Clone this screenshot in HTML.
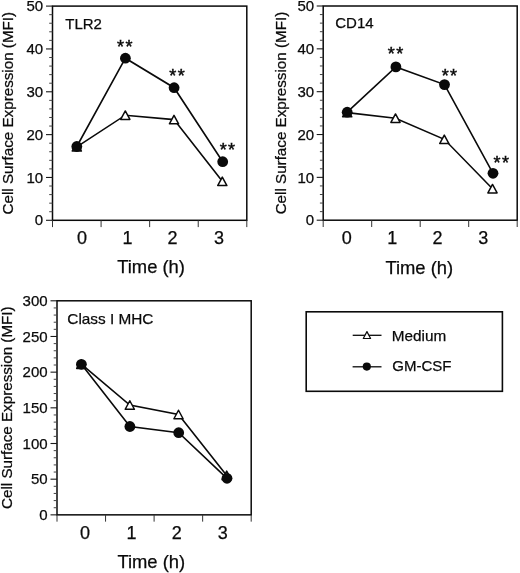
<!DOCTYPE html>
<html><head><meta charset="utf-8"><style>
html,body{margin:0;padding:0;background:#fff;}
svg{display:block;will-change:transform;}
text{font-family:"Liberation Sans", sans-serif;stroke:#0a0a0a;stroke-width:0.25px;}
</style></head><body>
<svg width="520" height="573" viewBox="0 0 520 573" font-family="Liberation Sans, sans-serif" fill="#0a0a0a">
<rect width="520" height="573" fill="#fff"/>
<rect x="52.5" y="6.1" width="194.3" height="214.20000000000002" fill="none" stroke="#0a0a0a" stroke-width="1.5"/>
<line x1="46.00" y1="220.30" x2="52.5" y2="220.30" stroke="#1a1a1a" stroke-width="1.1"/>
<text x="34.84" y="225.46" font-size="15">0</text>
<line x1="49.20" y1="211.73" x2="52.5" y2="211.73" stroke="#444" stroke-width="1.0"/>
<line x1="49.20" y1="203.16" x2="52.5" y2="203.16" stroke="#444" stroke-width="1.0"/>
<line x1="49.20" y1="194.60" x2="52.5" y2="194.60" stroke="#444" stroke-width="1.0"/>
<line x1="49.20" y1="186.03" x2="52.5" y2="186.03" stroke="#444" stroke-width="1.0"/>
<line x1="46.00" y1="177.46" x2="52.5" y2="177.46" stroke="#1a1a1a" stroke-width="1.1"/>
<text x="26.50" y="182.62" font-size="15">10</text>
<line x1="49.20" y1="168.89" x2="52.5" y2="168.89" stroke="#444" stroke-width="1.0"/>
<line x1="49.20" y1="160.32" x2="52.5" y2="160.32" stroke="#444" stroke-width="1.0"/>
<line x1="49.20" y1="151.76" x2="52.5" y2="151.76" stroke="#444" stroke-width="1.0"/>
<line x1="49.20" y1="143.19" x2="52.5" y2="143.19" stroke="#444" stroke-width="1.0"/>
<line x1="46.00" y1="134.62" x2="52.5" y2="134.62" stroke="#1a1a1a" stroke-width="1.1"/>
<text x="26.50" y="139.78" font-size="15">20</text>
<line x1="49.20" y1="126.05" x2="52.5" y2="126.05" stroke="#444" stroke-width="1.0"/>
<line x1="49.20" y1="117.48" x2="52.5" y2="117.48" stroke="#444" stroke-width="1.0"/>
<line x1="49.20" y1="108.92" x2="52.5" y2="108.92" stroke="#444" stroke-width="1.0"/>
<line x1="49.20" y1="100.35" x2="52.5" y2="100.35" stroke="#444" stroke-width="1.0"/>
<line x1="46.00" y1="91.78" x2="52.5" y2="91.78" stroke="#1a1a1a" stroke-width="1.1"/>
<text x="26.50" y="96.94" font-size="15">30</text>
<line x1="49.20" y1="83.21" x2="52.5" y2="83.21" stroke="#444" stroke-width="1.0"/>
<line x1="49.20" y1="74.64" x2="52.5" y2="74.64" stroke="#444" stroke-width="1.0"/>
<line x1="49.20" y1="66.08" x2="52.5" y2="66.08" stroke="#444" stroke-width="1.0"/>
<line x1="49.20" y1="57.51" x2="52.5" y2="57.51" stroke="#444" stroke-width="1.0"/>
<line x1="46.00" y1="48.94" x2="52.5" y2="48.94" stroke="#1a1a1a" stroke-width="1.1"/>
<text x="26.50" y="54.10" font-size="15">40</text>
<line x1="49.20" y1="40.37" x2="52.5" y2="40.37" stroke="#444" stroke-width="1.0"/>
<line x1="49.20" y1="31.80" x2="52.5" y2="31.80" stroke="#444" stroke-width="1.0"/>
<line x1="49.20" y1="23.24" x2="52.5" y2="23.24" stroke="#444" stroke-width="1.0"/>
<line x1="49.20" y1="14.67" x2="52.5" y2="14.67" stroke="#444" stroke-width="1.0"/>
<line x1="46.00" y1="6.10" x2="52.5" y2="6.10" stroke="#1a1a1a" stroke-width="1.1"/>
<text x="26.50" y="11.26" font-size="15">50</text>
<line x1="52.50" y1="220.3" x2="52.50" y2="227.10" stroke="#333" stroke-width="1.0"/>
<line x1="101.08" y1="220.3" x2="101.08" y2="227.10" stroke="#333" stroke-width="1.0"/>
<line x1="149.65" y1="220.3" x2="149.65" y2="227.10" stroke="#333" stroke-width="1.0"/>
<line x1="198.23" y1="220.3" x2="198.23" y2="227.10" stroke="#333" stroke-width="1.0"/>
<line x1="246.80" y1="220.3" x2="246.80" y2="227.10" stroke="#333" stroke-width="1.0"/>
<text x="77.10" y="243.97" font-size="18">0</text>
<text x="122.43" y="243.78" font-size="18">1</text>
<text x="167.59" y="243.97" font-size="18">2</text>
<text x="214.11" y="243.97" font-size="18">3</text>
<text x="117.19" y="273.33" font-size="18.4">Time (h)</text>
<text transform="translate(13.30,214.47) rotate(-90)" font-size="15.2">Cell Surface Expression (MFI)</text>
<text x="65.26" y="28.57" font-size="15">TLR2</text>
<polyline points="76.80,146.80 125.30,115.20 174.00,119.60 222.30,181.30" fill="none" stroke="#0a0a0a" stroke-width="1.6" stroke-linejoin="miter"/>
<polyline points="76.80,146.50 125.40,58.20 174.10,87.70 222.70,161.70" fill="none" stroke="#0a0a0a" stroke-width="1.6" stroke-linejoin="miter"/>
<path d="M76.80,142.55 L81.40,151.05 L72.20,151.05 Z" fill="#fff" stroke="#0a0a0a" stroke-width="1.5" stroke-linejoin="round"/>
<path d="M125.30,110.95 L129.90,119.45 L120.70,119.45 Z" fill="#fff" stroke="#0a0a0a" stroke-width="1.5" stroke-linejoin="round"/>
<path d="M174.00,115.35 L178.60,123.85 L169.40,123.85 Z" fill="#fff" stroke="#0a0a0a" stroke-width="1.5" stroke-linejoin="round"/>
<path d="M222.30,177.05 L226.90,185.55 L217.70,185.55 Z" fill="#fff" stroke="#0a0a0a" stroke-width="1.5" stroke-linejoin="round"/>
<circle cx="76.80" cy="146.50" r="5.4" fill="#0a0a0a"/>
<circle cx="125.40" cy="58.20" r="5.4" fill="#0a0a0a"/>
<circle cx="174.10" cy="87.70" r="5.4" fill="#0a0a0a"/>
<circle cx="222.70" cy="161.70" r="5.4" fill="#0a0a0a"/>
<text x="117.01" y="52.78" font-size="18" letter-spacing="1.4" style="stroke-width:0.5px">**</text>
<text x="169.31" y="81.98" font-size="18" letter-spacing="1.4" style="stroke-width:0.5px">**</text>
<text x="219.71" y="155.78" font-size="18" letter-spacing="1.4" style="stroke-width:0.5px">**</text>
<rect x="323.2" y="6.0" width="194.00000000000006" height="214.2" fill="none" stroke="#0a0a0a" stroke-width="1.5"/>
<line x1="316.70" y1="220.20" x2="323.2" y2="220.20" stroke="#1a1a1a" stroke-width="1.1"/>
<text x="305.84" y="225.36" font-size="15">0</text>
<line x1="319.90" y1="211.63" x2="323.2" y2="211.63" stroke="#444" stroke-width="1.0"/>
<line x1="319.90" y1="203.06" x2="323.2" y2="203.06" stroke="#444" stroke-width="1.0"/>
<line x1="319.90" y1="194.50" x2="323.2" y2="194.50" stroke="#444" stroke-width="1.0"/>
<line x1="319.90" y1="185.93" x2="323.2" y2="185.93" stroke="#444" stroke-width="1.0"/>
<line x1="316.70" y1="177.36" x2="323.2" y2="177.36" stroke="#1a1a1a" stroke-width="1.1"/>
<text x="297.50" y="182.52" font-size="15">10</text>
<line x1="319.90" y1="168.79" x2="323.2" y2="168.79" stroke="#444" stroke-width="1.0"/>
<line x1="319.90" y1="160.22" x2="323.2" y2="160.22" stroke="#444" stroke-width="1.0"/>
<line x1="319.90" y1="151.66" x2="323.2" y2="151.66" stroke="#444" stroke-width="1.0"/>
<line x1="319.90" y1="143.09" x2="323.2" y2="143.09" stroke="#444" stroke-width="1.0"/>
<line x1="316.70" y1="134.52" x2="323.2" y2="134.52" stroke="#1a1a1a" stroke-width="1.1"/>
<text x="297.50" y="139.68" font-size="15">20</text>
<line x1="319.90" y1="125.95" x2="323.2" y2="125.95" stroke="#444" stroke-width="1.0"/>
<line x1="319.90" y1="117.38" x2="323.2" y2="117.38" stroke="#444" stroke-width="1.0"/>
<line x1="319.90" y1="108.82" x2="323.2" y2="108.82" stroke="#444" stroke-width="1.0"/>
<line x1="319.90" y1="100.25" x2="323.2" y2="100.25" stroke="#444" stroke-width="1.0"/>
<line x1="316.70" y1="91.68" x2="323.2" y2="91.68" stroke="#1a1a1a" stroke-width="1.1"/>
<text x="297.50" y="96.84" font-size="15">30</text>
<line x1="319.90" y1="83.11" x2="323.2" y2="83.11" stroke="#444" stroke-width="1.0"/>
<line x1="319.90" y1="74.54" x2="323.2" y2="74.54" stroke="#444" stroke-width="1.0"/>
<line x1="319.90" y1="65.98" x2="323.2" y2="65.98" stroke="#444" stroke-width="1.0"/>
<line x1="319.90" y1="57.41" x2="323.2" y2="57.41" stroke="#444" stroke-width="1.0"/>
<line x1="316.70" y1="48.84" x2="323.2" y2="48.84" stroke="#1a1a1a" stroke-width="1.1"/>
<text x="297.50" y="54.00" font-size="15">40</text>
<line x1="319.90" y1="40.27" x2="323.2" y2="40.27" stroke="#444" stroke-width="1.0"/>
<line x1="319.90" y1="31.70" x2="323.2" y2="31.70" stroke="#444" stroke-width="1.0"/>
<line x1="319.90" y1="23.14" x2="323.2" y2="23.14" stroke="#444" stroke-width="1.0"/>
<line x1="319.90" y1="14.57" x2="323.2" y2="14.57" stroke="#444" stroke-width="1.0"/>
<line x1="316.70" y1="6.00" x2="323.2" y2="6.00" stroke="#1a1a1a" stroke-width="1.1"/>
<text x="297.50" y="11.16" font-size="15">50</text>
<line x1="323.20" y1="220.2" x2="323.20" y2="227.00" stroke="#333" stroke-width="1.0"/>
<line x1="371.70" y1="220.2" x2="371.70" y2="227.00" stroke="#333" stroke-width="1.0"/>
<line x1="420.20" y1="220.2" x2="420.20" y2="227.00" stroke="#333" stroke-width="1.0"/>
<line x1="468.70" y1="220.2" x2="468.70" y2="227.00" stroke="#333" stroke-width="1.0"/>
<line x1="517.20" y1="220.2" x2="517.20" y2="227.00" stroke="#333" stroke-width="1.0"/>
<text x="341.80" y="243.97" font-size="18">0</text>
<text x="387.33" y="243.78" font-size="18">1</text>
<text x="432.59" y="243.97" font-size="18">2</text>
<text x="478.31" y="243.97" font-size="18">3</text>
<text x="385.39" y="273.83" font-size="18.4">Time (h)</text>
<text transform="translate(285.60,214.37) rotate(-90)" font-size="15.2">Cell Surface Expression (MFI)</text>
<text x="335.24" y="28.07" font-size="15">CD14</text>
<polyline points="347.20,112.60 395.50,118.20 444.30,139.30 492.50,188.70" fill="none" stroke="#0a0a0a" stroke-width="1.6" stroke-linejoin="miter"/>
<polyline points="347.20,112.20 395.90,66.90 444.50,84.60 493.00,173.30" fill="none" stroke="#0a0a0a" stroke-width="1.6" stroke-linejoin="miter"/>
<path d="M347.20,108.35 L351.80,116.85 L342.60,116.85 Z" fill="#fff" stroke="#0a0a0a" stroke-width="1.5" stroke-linejoin="round"/>
<path d="M395.50,113.95 L400.10,122.45 L390.90,122.45 Z" fill="#fff" stroke="#0a0a0a" stroke-width="1.5" stroke-linejoin="round"/>
<path d="M444.30,135.05 L448.90,143.55 L439.70,143.55 Z" fill="#fff" stroke="#0a0a0a" stroke-width="1.5" stroke-linejoin="round"/>
<path d="M492.50,184.45 L497.10,192.95 L487.90,192.95 Z" fill="#fff" stroke="#0a0a0a" stroke-width="1.5" stroke-linejoin="round"/>
<circle cx="347.20" cy="112.20" r="5.4" fill="#0a0a0a"/>
<circle cx="395.90" cy="66.90" r="5.4" fill="#0a0a0a"/>
<circle cx="444.50" cy="84.60" r="5.4" fill="#0a0a0a"/>
<circle cx="493.00" cy="173.30" r="5.4" fill="#0a0a0a"/>
<text x="387.81" y="59.58" font-size="18" letter-spacing="1.4" style="stroke-width:0.5px">**</text>
<text x="441.71" y="81.68" font-size="18" letter-spacing="1.4" style="stroke-width:0.5px">**</text>
<text x="493.51" y="168.98" font-size="18" letter-spacing="1.4" style="stroke-width:0.5px">**</text>
<rect x="57.0" y="300.8" width="194.2" height="214.05" fill="none" stroke="#0a0a0a" stroke-width="1.5"/>
<line x1="50.50" y1="514.85" x2="57.0" y2="514.85" stroke="#1a1a1a" stroke-width="1.1"/>
<text x="39.24" y="520.01" font-size="15">0</text>
<line x1="53.70" y1="507.72" x2="57.0" y2="507.72" stroke="#444" stroke-width="1.0"/>
<line x1="53.70" y1="500.58" x2="57.0" y2="500.58" stroke="#444" stroke-width="1.0"/>
<line x1="53.70" y1="493.45" x2="57.0" y2="493.45" stroke="#444" stroke-width="1.0"/>
<line x1="53.70" y1="486.31" x2="57.0" y2="486.31" stroke="#444" stroke-width="1.0"/>
<line x1="50.50" y1="479.18" x2="57.0" y2="479.18" stroke="#1a1a1a" stroke-width="1.1"/>
<text x="30.90" y="484.34" font-size="15">50</text>
<line x1="53.70" y1="472.04" x2="57.0" y2="472.04" stroke="#444" stroke-width="1.0"/>
<line x1="53.70" y1="464.91" x2="57.0" y2="464.91" stroke="#444" stroke-width="1.0"/>
<line x1="53.70" y1="457.77" x2="57.0" y2="457.77" stroke="#444" stroke-width="1.0"/>
<line x1="53.70" y1="450.63" x2="57.0" y2="450.63" stroke="#444" stroke-width="1.0"/>
<line x1="50.50" y1="443.50" x2="57.0" y2="443.50" stroke="#1a1a1a" stroke-width="1.1"/>
<text x="22.56" y="448.66" font-size="15">100</text>
<line x1="53.70" y1="436.37" x2="57.0" y2="436.37" stroke="#444" stroke-width="1.0"/>
<line x1="53.70" y1="429.23" x2="57.0" y2="429.23" stroke="#444" stroke-width="1.0"/>
<line x1="53.70" y1="422.10" x2="57.0" y2="422.10" stroke="#444" stroke-width="1.0"/>
<line x1="53.70" y1="414.96" x2="57.0" y2="414.96" stroke="#444" stroke-width="1.0"/>
<line x1="50.50" y1="407.83" x2="57.0" y2="407.83" stroke="#1a1a1a" stroke-width="1.1"/>
<text x="22.56" y="412.99" font-size="15">150</text>
<line x1="53.70" y1="400.69" x2="57.0" y2="400.69" stroke="#444" stroke-width="1.0"/>
<line x1="53.70" y1="393.56" x2="57.0" y2="393.56" stroke="#444" stroke-width="1.0"/>
<line x1="53.70" y1="386.42" x2="57.0" y2="386.42" stroke="#444" stroke-width="1.0"/>
<line x1="53.70" y1="379.29" x2="57.0" y2="379.29" stroke="#444" stroke-width="1.0"/>
<line x1="50.50" y1="372.15" x2="57.0" y2="372.15" stroke="#1a1a1a" stroke-width="1.1"/>
<text x="22.56" y="377.31" font-size="15">200</text>
<line x1="53.70" y1="365.01" x2="57.0" y2="365.01" stroke="#444" stroke-width="1.0"/>
<line x1="53.70" y1="357.88" x2="57.0" y2="357.88" stroke="#444" stroke-width="1.0"/>
<line x1="53.70" y1="350.75" x2="57.0" y2="350.75" stroke="#444" stroke-width="1.0"/>
<line x1="53.70" y1="343.61" x2="57.0" y2="343.61" stroke="#444" stroke-width="1.0"/>
<line x1="50.50" y1="336.48" x2="57.0" y2="336.48" stroke="#1a1a1a" stroke-width="1.1"/>
<text x="22.56" y="341.64" font-size="15">250</text>
<line x1="53.70" y1="329.34" x2="57.0" y2="329.34" stroke="#444" stroke-width="1.0"/>
<line x1="53.70" y1="322.21" x2="57.0" y2="322.21" stroke="#444" stroke-width="1.0"/>
<line x1="53.70" y1="315.07" x2="57.0" y2="315.07" stroke="#444" stroke-width="1.0"/>
<line x1="53.70" y1="307.94" x2="57.0" y2="307.94" stroke="#444" stroke-width="1.0"/>
<line x1="50.50" y1="300.80" x2="57.0" y2="300.80" stroke="#1a1a1a" stroke-width="1.1"/>
<text x="22.56" y="305.96" font-size="15">300</text>
<line x1="57.00" y1="514.85" x2="57.00" y2="521.65" stroke="#333" stroke-width="1.0"/>
<line x1="105.55" y1="514.85" x2="105.55" y2="521.65" stroke="#333" stroke-width="1.0"/>
<line x1="154.10" y1="514.85" x2="154.10" y2="521.65" stroke="#333" stroke-width="1.0"/>
<line x1="202.65" y1="514.85" x2="202.65" y2="521.65" stroke="#333" stroke-width="1.0"/>
<line x1="251.20" y1="514.85" x2="251.20" y2="521.65" stroke="#333" stroke-width="1.0"/>
<text x="80.10" y="539.37" font-size="18">0</text>
<text x="126.53" y="539.18" font-size="18">1</text>
<text x="171.79" y="539.37" font-size="18">2</text>
<text x="217.71" y="539.37" font-size="18">3</text>
<text x="117.39" y="567.73" font-size="18.4">Time (h)</text>
<text transform="translate(11.60,508.97) rotate(-90)" font-size="15.2">Cell Surface Expression (MFI)</text>
<text x="67.32" y="323.72" font-size="15.35">Class I MHC</text>
<polyline points="81.30,364.20 129.80,405.00 178.50,414.50 226.70,475.40" fill="none" stroke="#0a0a0a" stroke-width="1.6" stroke-linejoin="miter"/>
<polyline points="81.40,364.30 129.90,426.50 178.70,432.70 227.00,478.30" fill="none" stroke="#0a0a0a" stroke-width="1.6" stroke-linejoin="miter"/>
<path d="M81.30,359.95 L85.90,368.45 L76.70,368.45 Z" fill="#fff" stroke="#0a0a0a" stroke-width="1.5" stroke-linejoin="round"/>
<path d="M129.80,400.75 L134.40,409.25 L125.20,409.25 Z" fill="#fff" stroke="#0a0a0a" stroke-width="1.5" stroke-linejoin="round"/>
<path d="M178.50,410.25 L183.10,418.75 L173.90,418.75 Z" fill="#fff" stroke="#0a0a0a" stroke-width="1.5" stroke-linejoin="round"/>
<path d="M226.70,471.15 L231.30,479.65 L222.10,479.65 Z" fill="#fff" stroke="#0a0a0a" stroke-width="1.5" stroke-linejoin="round"/>
<circle cx="81.40" cy="364.30" r="5.4" fill="#0a0a0a"/>
<circle cx="129.90" cy="426.50" r="5.4" fill="#0a0a0a"/>
<circle cx="178.70" cy="432.70" r="5.4" fill="#0a0a0a"/>
<circle cx="227.00" cy="478.30" r="5.4" fill="#0a0a0a"/>
<rect x="306.2" y="311.8" width="196.2" height="79.5" fill="none" stroke="#0a0a0a" stroke-width="1.6"/>
<line x1="352.7" y1="335.3" x2="381.5" y2="335.3" stroke="#0a0a0a" stroke-width="1.3"/>
<path d="M366.95,331.6 L370.6,338.5 L363.3,338.5 Z" fill="#fff" stroke="#0a0a0a" stroke-width="1.2" stroke-linejoin="round"/>
<line x1="352.6" y1="366.8" x2="381.5" y2="366.8" stroke="#0a0a0a" stroke-width="1.3"/>
<circle cx="366.8" cy="366.6" r="4.1" fill="#0a0a0a"/>
<text x="391.74" y="341.39" font-size="15.3">Medium</text>
<text x="392.25" y="371.47" font-size="15">GM-CSF</text>
</svg>
</body></html>
